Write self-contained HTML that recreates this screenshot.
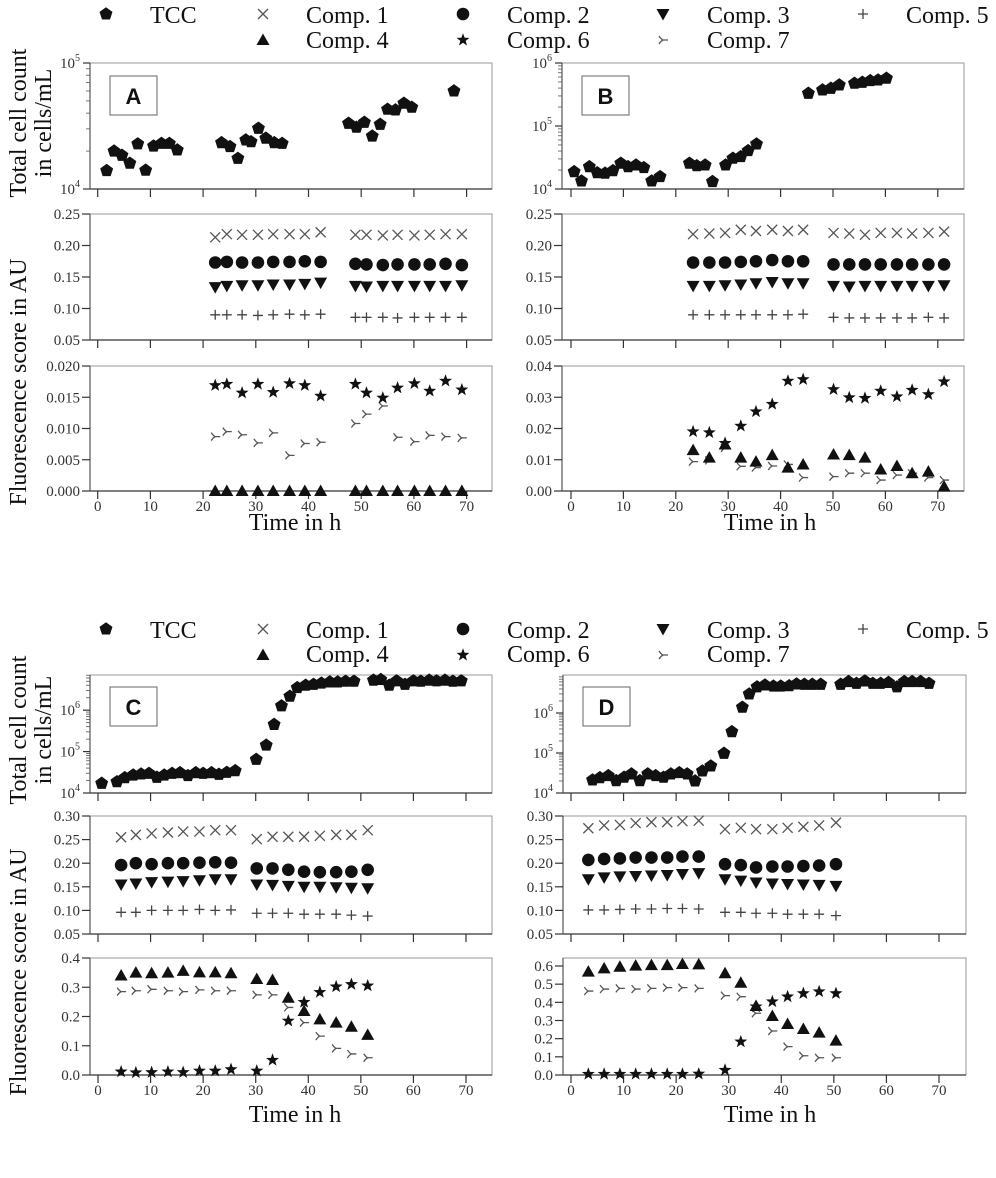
<!DOCTYPE html>
<html><head><meta charset="utf-8"><style>
html,body{margin:0;padding:0;background:#fff;}
svg{display:block;font-family:"Liberation Serif",serif;}
</style></head><body>
<svg id="fig" width="996" height="1178" viewBox="0 0 996 1178" xmlns="http://www.w3.org/2000/svg">
<g font-size="24" fill="#111">
<text x="150" y="23">TCC</text>
<text x="306" y="23">Comp. 1</text>
<text x="507" y="23">Comp. 2</text>
<text x="707" y="23">Comp. 3</text>
<text x="906" y="23">Comp. 5</text>
<text x="306" y="48">Comp. 4</text>
<text x="507" y="48">Comp. 6</text>
<text x="707" y="48">Comp. 7</text>
</g>
<g font-size="24" fill="#111">
<text x="150" y="638">TCC</text>
<text x="306" y="638">Comp. 1</text>
<text x="507" y="638">Comp. 2</text>
<text x="707" y="638">Comp. 3</text>
<text x="906" y="638">Comp. 5</text>
<text x="306" y="662">Comp. 4</text>
<text x="507" y="662">Comp. 6</text>
<text x="707" y="662">Comp. 7</text>
</g>
<g font-size="24" fill="#111" text-anchor="middle">
<text transform="translate(26,123) rotate(-90)">Total cell count</text>
<text transform="translate(51,123) rotate(-90)">in cells/mL</text>
<text transform="translate(26,382) rotate(-90)">Fluorescence score in AU</text>
<text transform="translate(26,730) rotate(-90)">Total cell count</text>
<text transform="translate(51,730) rotate(-90)">in cells/mL</text>
<text transform="translate(26,972) rotate(-90)">Fluorescence score in AU</text>
</g>
<g font-size="24" fill="#111" text-anchor="middle">
<text x="295" y="530">Time in h</text>
<text x="770" y="530">Time in h</text>
<text x="295" y="1122">Time in h</text>
<text x="770" y="1122">Time in h</text>
</g>
</svg>
<script>
// ---------- Panel A data ----------
const A_tccHours=[1.7,3.1,4.6,6.1,7.6,9.1,10.6,12.1,13.6,15.1,23.5,25.1,26.6,28.1,29.1,30.5,31.9,33.5,35.0,47.6,49.1,50.6,52.1,53.6,55.0,56.5,58.1,59.6,67.6];
const A_tcc=[14000,20000,18500,16000,22800,14100,21900,23000,23000,20400,23300,21700,17500,24500,23700,30300,25300,23300,23000,33200,30900,33800,26300,32600,42900,42400,47900,44500,60000];
const A_hours=[22.3,24.5,27.4,30.4,33.3,36.4,39.3,42.3,48.9,51.0,54.1,56.9,60.1,63.0,66.0,69.1];
const A_comp1=[0.213,0.218,0.217,0.217,0.218,0.218,0.218,0.221,0.217,0.217,0.216,0.217,0.216,0.217,0.218,0.218];
const A_comp2=[0.173,0.174,0.173,0.173,0.174,0.174,0.175,0.174,0.171,0.170,0.169,0.170,0.170,0.170,0.171,0.169];
const A_comp3=[0.134,0.136,0.137,0.137,0.138,0.138,0.139,0.141,0.136,0.135,0.136,0.136,0.136,0.136,0.136,0.137];
const A_comp5=[0.090,0.090,0.090,0.089,0.090,0.091,0.090,0.091,0.086,0.086,0.086,0.085,0.086,0.086,0.086,0.086];
const A_comp4=[0,0,0,0,0,0,0,0,0,0,0,0,0,0,0,0];
const A_comp6=[0.0169,0.0171,0.0157,0.0171,0.0158,0.0172,0.0169,0.0152,0.0171,0.0157,0.0149,0.0165,0.0172,0.0160,0.0176,0.0162];
const A_comp7=[0.0087,0.0095,0.0090,0.0077,0.0093,0.0057,0.0076,0.0078,0.0108,0.0123,0.0136,0.0086,0.0079,0.0089,0.0087,0.0085];
// ---------- Panel B data ----------
const B_tccHours=[0.6,2.0,3.5,5.0,6.5,8.0,9.5,10.9,12.4,13.9,15.4,17.0,22.6,24.0,25.6,27.0,29.5,30.9,32.4,33.8,35.4,45.3,48.0,49.6,51.2,54.1,55.6,57.1,58.6,60.2];
const B_tcc=[18800,13400,22600,18100,17800,19500,25600,22600,24000,21800,13400,15700,25600,23400,24000,13100,24000,30700,32600,40600,51800,330000,373000,396000,448000,476000,493000,524000,537000,572000];
const B_hours=[23.3,26.4,29.4,32.4,35.3,38.4,41.4,44.3,50.1,53.1,56.1,59.1,62.2,65.1,68.2,71.2];
const B_comp1=[0.218,0.219,0.220,0.225,0.223,0.225,0.223,0.225,0.220,0.219,0.217,0.220,0.220,0.219,0.220,0.222];
const B_comp2=[0.173,0.173,0.173,0.174,0.175,0.177,0.175,0.175,0.170,0.170,0.170,0.170,0.170,0.170,0.170,0.170];
const B_comp3=[0.136,0.136,0.137,0.138,0.140,0.142,0.140,0.140,0.136,0.135,0.136,0.136,0.136,0.136,0.136,0.137];
const B_comp5=[0.090,0.090,0.090,0.090,0.090,0.090,0.090,0.091,0.086,0.085,0.085,0.085,0.085,0.085,0.086,0.085];
const B_comp4=[0.0131,0.0107,0.0149,0.0107,0.0094,0.0115,0.0075,0.0085,0.0117,0.0115,0.0107,0.0069,0.0080,0.0057,0.0062,0.0014];
const B_comp6=[0.0190,0.0187,0.0153,0.0208,0.0254,0.0278,0.0352,0.0357,0.0325,0.0299,0.0297,0.0320,0.0302,0.0323,0.0309,0.0350];
const B_comp7=[0.0094,0.0098,0.0138,0.0079,0.0075,0.0080,0.0085,0.0043,0.0046,0.0057,0.0057,0.0035,0.0051,0.0057,0.0043,0.0035];
// ---------- Panel C data ----------
const C_tccHours=[0.7,3.6,5.1,6.7,8.2,9.7,11.2,12.6,14.1,15.6,17.1,18.6,20.0,21.6,23.0,24.5,26.1,30.1,32.0,33.5,34.9,36.5,37.9,39.5,41.0,42.5,44.1,45.6,47.1,48.7,52.4,53.8,55.4,56.8,58.4,60.0,61.4,63.0,64.4,66.0,67.5,69.1];
const C_tcc=[17100,18700,23400,27100,28700,29800,23900,27100,29800,30900,26200,30900,29800,30900,28200,31500,34500,64700,143000,452000,1270000,2170000,3500000,4000000,4200000,4500000,4800000,4800000,5000000,5000000,5300000,5500000,4000000,5100000,4200000,5100000,5000000,5300000,5100000,5300000,5000000,5100000];
const C_hours=[4.4,7.2,10.2,13.3,16.2,19.3,22.3,25.3,30.2,33.2,36.2,39.2,42.2,45.3,48.2,51.3];
const C_comp1=[0.255,0.260,0.263,0.265,0.267,0.267,0.270,0.270,0.251,0.256,0.256,0.256,0.258,0.260,0.260,0.270];
const C_comp2=[0.196,0.200,0.198,0.200,0.200,0.201,0.202,0.201,0.189,0.189,0.186,0.182,0.181,0.181,0.182,0.186];
const C_comp3=[0.155,0.157,0.160,0.161,0.162,0.164,0.166,0.166,0.155,0.154,0.152,0.150,0.150,0.149,0.148,0.147];
const C_comp5=[0.096,0.096,0.100,0.100,0.100,0.102,0.100,0.101,0.094,0.094,0.094,0.092,0.092,0.092,0.090,0.088];
const C_comp4=[0.340,0.350,0.348,0.350,0.356,0.351,0.351,0.348,0.328,0.325,0.264,0.219,0.190,0.179,0.165,0.137];
const C_comp6=[0.011,0.008,0.009,0.011,0.009,0.014,0.014,0.019,0.014,0.051,0.185,0.249,0.283,0.302,0.310,0.305];
const C_comp7=[0.285,0.288,0.293,0.288,0.285,0.291,0.288,0.288,0.274,0.274,0.231,0.179,0.133,0.091,0.072,0.059];
// ---------- Panel D data ----------
const D_tccHours=[4.1,5.5,7.1,8.6,10.1,11.5,13.1,14.6,16.1,17.6,19.0,20.6,22.1,23.6,25.0,26.6,29.1,30.6,32.6,33.9,35.4,36.9,38.5,39.9,41.5,42.9,44.4,45.9,47.5,51.3,52.8,54.3,55.9,57.4,58.9,60.4,62.0,63.4,64.9,66.5,68.1];
const D_tcc=[21100,24100,27100,20300,24700,29900,20300,29900,27100,24700,29900,32200,29900,20000,35500,47300,98000,341000,1390000,2980000,4500000,5000000,4700000,4700000,4800000,5300000,5200000,5200000,5200000,5200000,6100000,5500000,6300000,5500000,5500000,5800000,4500000,6100000,6100000,6100000,5500000];
const D_hours=[3.3,6.3,9.3,12.3,15.3,18.3,21.2,24.3,29.3,32.3,35.2,38.3,41.2,44.2,47.2,50.4];
const D_comp1=[0.274,0.280,0.281,0.285,0.287,0.287,0.289,0.290,0.272,0.275,0.272,0.272,0.275,0.277,0.280,0.286];
const D_comp2=[0.207,0.209,0.210,0.212,0.212,0.212,0.214,0.214,0.198,0.196,0.191,0.193,0.193,0.194,0.195,0.198];
const D_comp3=[0.166,0.170,0.172,0.173,0.174,0.175,0.177,0.179,0.166,0.163,0.159,0.157,0.156,0.155,0.154,0.152];
const D_comp5=[0.101,0.101,0.102,0.103,0.103,0.104,0.104,0.103,0.096,0.096,0.094,0.094,0.092,0.092,0.092,0.089];
const D_comp4=[0.569,0.587,0.596,0.602,0.605,0.605,0.611,0.609,0.560,0.508,0.380,0.325,0.281,0.253,0.233,0.189];
const D_comp6=[0.005,0.005,0.005,0.005,0.005,0.005,0.005,0.006,0.027,0.183,0.376,0.404,0.431,0.449,0.459,0.449];
const D_comp7=[0.462,0.473,0.477,0.473,0.477,0.481,0.481,0.477,0.437,0.431,0.340,0.242,0.156,0.106,0.095,0.095];
// ---------- axis tick arrays ----------
const xTicks=[0,10,20,30,40,50,60,70];
const midTicksAB=[0.05,0.10,0.15,0.20,0.25];
const midTicksCD=[0.05,0.10,0.15,0.20,0.25,0.30];
const botTicksA=[0,0.005,0.010,0.015,0.020];
const botTicksB=[0,0.01,0.02,0.03,0.04];
const botTicksC=[0,0.1,0.2,0.3,0.4];
const botTicksD=[0,0.1,0.2,0.3,0.4,0.5,0.6];

const NS='http://www.w3.org/2000/svg';
const svg=document.getElementById('fig');
function mk(tag,attrs,parent){const e=document.createElementNS(NS,tag);for(const k in attrs)e.setAttribute(k,attrs[k]);(parent||svg).appendChild(e);return e;}
function poly(n,r,rot,inner){let p=[];const m=inner?2*n:n;for(let i=0;i<m;i++){const a=(rot+i*360/m)*Math.PI/180;const rr=inner&&(i%2)?inner:r;p.push((rr*Math.cos(a)).toFixed(2)+','+(rr*Math.sin(a)).toFixed(2));}return p.join(' ');}
function marker(type,x,y,parent){
  let e;
  if(type==='tcc'){e=mk('polygon',{points:poly(5,6.8,-90),transform:`translate(${x},${y})`,fill:'#111'},parent);}
  else if(type==='comp2'){e=mk('circle',{cx:x,cy:y,r:6.3,fill:'#111'},parent);}
  else if(type==='comp3'){e=mk('polygon',{points:'-6.5,-5 6.5,-5 0,6.5',transform:`translate(${x},${y})`,fill:'#111'},parent);}
  else if(type==='comp4'){e=mk('polygon',{points:'-6.5,5 6.5,5 0,-6.5',transform:`translate(${x},${y})`,fill:'#111'},parent);}
  else if(type==='comp6'){e=mk('polygon',{points:poly(5,6.8,-90,2.8),transform:`translate(${x},${y})`,fill:'#111'},parent);}
  else if(type==='comp1'){e=mk('path',{d:'M-5,-5L5,5M-5,5L5,-5',transform:`translate(${x},${y})`,stroke:'#555',fill:'none','stroke-width':1.3},parent);}
  else if(type==='comp5'){e=mk('path',{d:'M-5,0L5,0M0,-5L0,5',transform:`translate(${x},${y})`,stroke:'#444',fill:'none','stroke-width':1.3},parent);}
  else {e=mk('path',{d:'M5,0L0,0Q-2,-1 -4,-4M0,0Q-2,1 -4,4',transform:`translate(${x},${y})`,stroke:'#555',fill:'none','stroke-width':1.3},parent);}
  return e;
}
// legends
[[0,0],[1,615]].forEach(([i,dy])=>{
  const L=[['tcc',106,14],['comp1',263,14],['comp2',463,14],['comp3',663,14],['comp5',863,14],['comp4',263,40],['comp6',463,40],['comp7',663,40]];
  L.forEach(([t,x,y])=>{const m=marker(t,x,y+dy);
    
    });
});

function panel(P){
  const g=mk('g',{});
  
  
  const X=h=>P.x0+h*P.k;
  P.subs.forEach((s,si)=>{
    const Y=s.log?(v=>s.y1-(Math.log10(v)-s.min)/(s.max-s.min)*(s.y1-s.y0)):(v=>s.y1-(v-s.min)/(s.max-s.min)*(s.y1-s.y0));
    const f=mk('rect',{x:P.L,y:s.y0,width:P.R-P.L,height:s.y1-s.y0,fill:'none',stroke:'#9a9a9a','stroke-width':1},g);
    
    
    mk('line',{x1:P.L,y1:s.y1,x2:P.R,y2:s.y1,stroke:'#333','stroke-width':1.2},g);
    mk('line',{x1:P.L,y1:s.y0,x2:P.L,y2:s.y1,stroke:'#555','stroke-width':1.2},g);
    xTicks.forEach(t=>{
      mk('line',{x1:X(t),y1:s.y1,x2:X(t),y2:s.y1+8,stroke:'#333','stroke-width':1.2},g);
      if(si===2){const tx=mk('text',{x:X(t),y:s.y1+20,'text-anchor':'middle','font-size':15,fill:'#333'},g);tx.textContent=t;
        
        }
    });
    if(s.log){
      for(let d=s.min;d<Math.ceil(s.max);d++){for(let m=2;m<=9;m++){const v=m*Math.pow(10,d);if(Math.log10(v)<=s.max)mk('line',{x1:P.L-4,y1:Y(v),x2:P.L,y2:Y(v),stroke:'#555','stroke-width':0.8},g);}}
      for(let d=s.min;d<=s.max;d++){const yy=Y(Math.pow(10,d));
        mk('line',{x1:P.L-7,y1:yy,x2:P.L,y2:yy,stroke:'#333','stroke-width':1.2},g);
        const tx=mk('text',{x:P.L-10,y:yy+5,'text-anchor':'end','font-size':15,fill:'#333'},g);
        tx.textContent='10';
        
        
        const sp=mk('tspan',{dy:-7,'font-size':10},tx);sp.textContent=d;}
    } else {
      s.ticks.forEach(t=>{const yy=Y(t);
        mk('line',{x1:P.L-8,y1:yy,x2:P.L,y2:yy,stroke:'#333','stroke-width':1.2},g);
        const tx=mk('text',{x:P.L-10,y:yy+5,'text-anchor':'end','font-size':15,fill:'#333'},g);tx.textContent=t.toFixed(s.dec);
        
        });
    }
    s.series.forEach(([type,xs,vs])=>{
      xs.forEach((h,i)=>{const m=marker(type,X(h),Y(vs[i]),g);
        
        });
    });
  });
  const b=mk('rect',{x:P.bx,y:P.by,width:47,height:39,fill:'#fff',stroke:'#666','stroke-width':1},g);
  
  
  const lt=mk('text',{x:P.bx+23.5,y:P.by+28,'text-anchor':'middle','font-size':22,'font-weight':'bold','font-family':'Liberation Sans, sans-serif',fill:'#111'},g);
  lt.textContent=P.id.toUpperCase();
  
  
}
function fl(H,c1,c2,c3,c5){return [['comp1',H,c1],['comp2',H,c2],['comp3',H,c3],['comp5',H,c5]];}
function fb(H,c4,c6,c7){return [['comp7',H,c7],['comp4',H,c4],['comp6',H,c6]];}
panel({id:'a',x0:97.7,k:5.27,L:90,R:492,bx:110,by:76,subs:[
 {name:'tcc-a',y0:63,y1:189,log:true,min:4,max:5,series:[['tcc',A_tccHours,A_tcc]]},
 {name:'fluor-major-a',y0:214,y1:340,min:0.05,max:0.25,ticks:midTicksAB,dec:2,series:fl(A_hours,A_comp1,A_comp2,A_comp3,A_comp5)},
 {name:'fluor-minor-a',y0:366,y1:491,min:0,max:0.02,ticks:botTicksA,dec:3,series:fb(A_hours,A_comp4,A_comp6,A_comp7)}]});
panel({id:'b',x0:571,k:5.24,L:562,R:964,bx:582,by:76,subs:[
 {name:'tcc-b',y0:63,y1:189,log:true,min:4,max:6,series:[['tcc',B_tccHours,B_tcc]]},
 {name:'fluor-major-b',y0:214,y1:340,min:0.05,max:0.25,ticks:midTicksAB,dec:2,series:fl(B_hours,B_comp1,B_comp2,B_comp3,B_comp5)},
 {name:'fluor-minor-b',y0:366,y1:491,min:0,max:0.04,ticks:botTicksB,dec:2,series:fb(B_hours,B_comp4,B_comp6,B_comp7)}]});
panel({id:'c',x0:98,k:5.257,L:90,R:492,bx:110,by:687,subs:[
 {name:'tcc-c',y0:675,y1:793,log:true,min:4,max:6.85,series:[['tcc',C_tccHours,C_tcc]]},
 {name:'fluor-major-c',y0:816,y1:934,min:0.05,max:0.30,ticks:midTicksCD,dec:2,series:fl(C_hours,C_comp1,C_comp2,C_comp3,C_comp5)},
 {name:'fluor-minor-c',y0:958,y1:1075,min:0,max:0.4,ticks:botTicksC,dec:1,series:fb(C_hours,C_comp4,C_comp6,C_comp7)}]});
panel({id:'d',x0:571,k:5.257,L:563,R:966,bx:583,by:687,subs:[
 {name:'tcc-d',y0:675,y1:793,log:true,min:4,max:6.95,series:[['tcc',D_tccHours,D_tcc]]},
 {name:'fluor-major-d',y0:816,y1:934,min:0.05,max:0.30,ticks:midTicksCD,dec:2,series:fl(D_hours,D_comp1,D_comp2,D_comp3,D_comp5)},
 {name:'fluor-minor-d',y0:958,y1:1075,min:0,max:0.644,ticks:botTicksD,dec:1,series:fb(D_hours,D_comp4,D_comp6,D_comp7)}]});
</script>
</body></html>
